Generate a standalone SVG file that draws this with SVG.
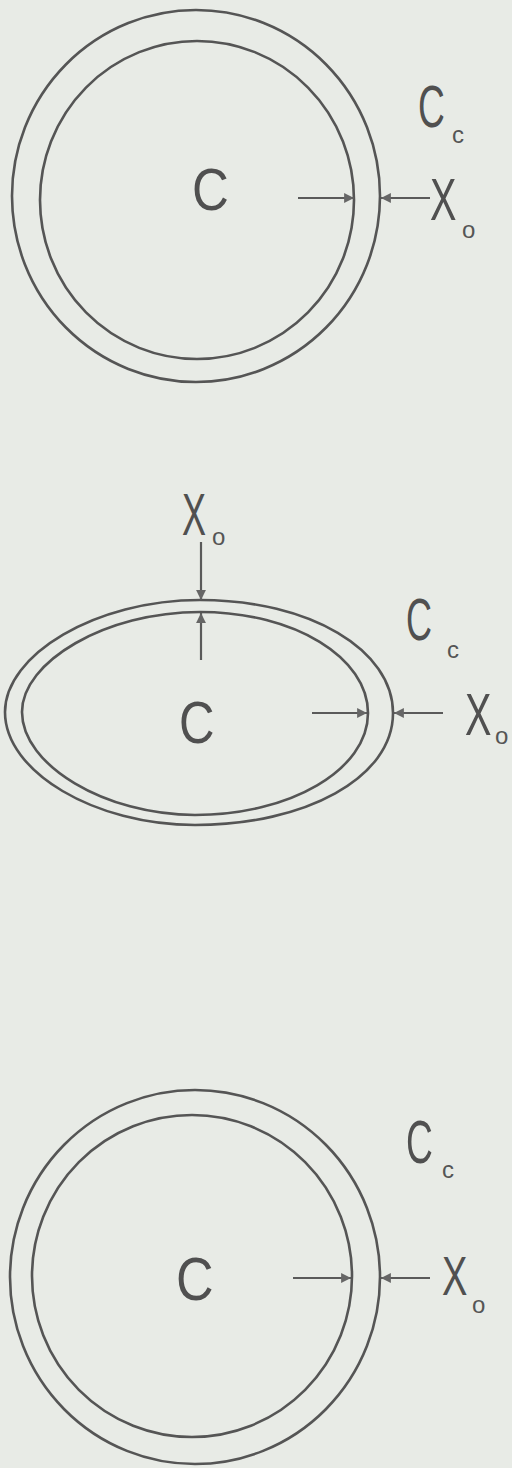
<svg xmlns="http://www.w3.org/2000/svg" width="512" height="1468" viewBox="0 0 512 1468">
<style>
.ring{fill:none;stroke:#555;stroke-width:2.6}
.arr{stroke:#5a5a5a;stroke-width:2.2;fill:none;marker-end:url(#ah)}
.big{font-family:"Liberation Sans",Arial,sans-serif;font-size:60px;fill:#505050}
.sub{font-family:"Liberation Sans",Arial,sans-serif;font-size:24px;fill:#555}
</style>
<defs>
<marker id="ah" viewBox="0 0 10 10" refX="10" refY="5" markerWidth="4.5" markerHeight="4.5" orient="auto" markerUnits="strokeWidth">
<path d="M0,0 L10,5 L0,10 Z" fill="#666"/>
</marker>
</defs>
<rect width="512" height="1468" fill="#e8ebe6"/>

<g id="fig1">
<ellipse class="ring" cx="196" cy="196" rx="184" ry="186"/>
<ellipse class="ring" cx="197" cy="200" rx="157" ry="159"/>
<text class="big" transform="translate(192,210) scale(0.85,1)">C</text>
<text class="big" transform="translate(418,127) scale(0.62,1)">C</text>
<text class="sub" x="452" y="143">c</text>
<text class="big" transform="translate(430,220) scale(0.66,1)">X</text>
<text class="sub" x="462" y="238">o</text>
</g>

<g id="fig2">
<path class="ring" d="M5,712 C5,655 95,600 200,600 C310,600 393,650 393,713 C393,778 305,825 195,825 C95,825 5,772 5,712 Z"/>
<path class="ring" d="M22,712 C22,662 105,612 200,612 C295,612 368,658 368,713 C368,770 290,815 195,815 C105,815 22,765 22,712 Z"/>
<text class="big" transform="translate(179,743) scale(0.82,1)">C</text>
<text class="big" transform="translate(406,640) scale(0.6,1)">C</text>
<text class="sub" x="447" y="658">c</text>
<text class="big" transform="translate(465,735) scale(0.66,1)">X</text>
<text class="sub" x="495" y="744">o</text>
<text class="big" transform="translate(182,535) scale(0.6,1)">X</text>
<text class="sub" x="212" y="545">o</text>
</g>

<g id="fig3">
<ellipse class="ring" cx="195" cy="1277" rx="185" ry="187"/>
<ellipse class="ring" cx="192" cy="1276" rx="160" ry="161"/>
<text class="big" transform="translate(176,1300) scale(0.84,1)" style="font-size:62px">C</text>
<text class="big" transform="translate(406,1163) scale(0.6,1)" style="font-size:62px">C</text>
<text class="sub" x="442" y="1178">c</text>
<text class="big" transform="translate(442,1295) scale(0.68,1)" style="font-size:56px">X</text>
<text class="sub" x="472" y="1313">o</text>
</g>

<g id="connectors">
<line class="arr" x1="298" y1="198" x2="354" y2="198"/>
<line class="arr" x1="430" y1="198" x2="381" y2="198"/>
<line class="arr" x1="312" y1="713" x2="367" y2="713"/>
<line class="arr" x1="443" y1="713" x2="394" y2="713"/>
<line class="arr" x1="201" y1="542" x2="201" y2="600"/>
<line class="arr" x1="201" y1="660" x2="201" y2="613"/>
<line class="arr" x1="293" y1="1278" x2="351" y2="1278"/>
<line class="arr" x1="430" y1="1278" x2="381" y2="1278"/>
</g>
</svg>
